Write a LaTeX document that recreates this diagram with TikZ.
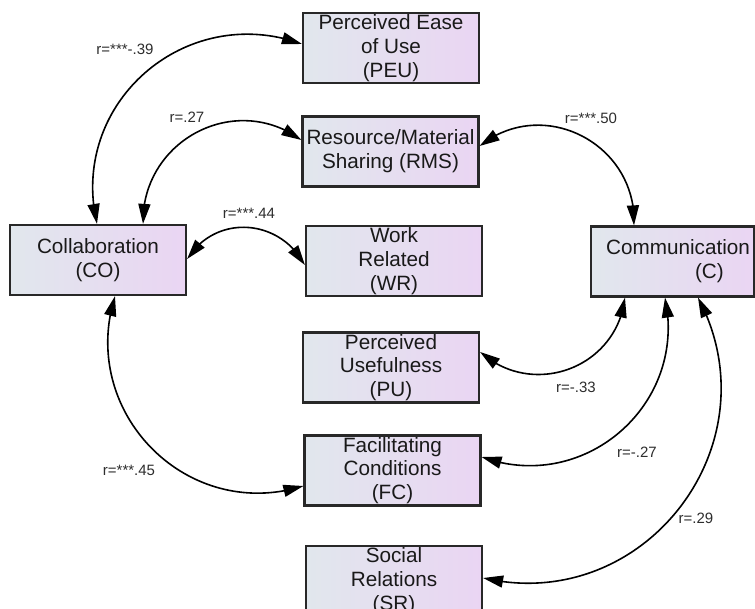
\documentclass[tikz,border=0pt]{standalone}
\usepackage{fontspec}
\setmainfont{Liberation Sans}
\usetikzlibrary{arrows.meta,bending}
\definecolor{boxleft}{RGB}{225,231,237}
\definecolor{boxright}{RGB}{234,213,243}
\definecolor{boxline}{RGB}{40,40,40}
\definecolor{txt}{RGB}{25,25,25}
\definecolor{lbl}{RGB}{45,45,45}
\begin{document}
\begin{tikzpicture}[x=1pt,y=1pt,
  box/.style={draw=boxline, line width=2.2pt, left color=boxleft, right color=boxright,
    minimum width=176pt, minimum height=70pt, inner sep=0pt},
  boxtext/.style={align=center, text=txt, font=\fontsize{20.7}{23.8}\selectfont, inner sep=0pt},
  rlabel/.style={text=lbl, font=\fontsize{15}{18}\selectfont, inner sep=0pt},
  cov/.style={line width=1.6pt, {Triangle[length=20pt,width=12pt]}-{Triangle[length=20pt,width=12pt]}}
]
\useasboundingbox (0,0) rectangle (755,609);
\clip (0,0) rectangle (755,609);
\fill[white] (0,0) rectangle (755,609);

% boxes
\node[box] (peu) at (391,561) {};
\node[box] (rms) at (390.5,457.5) {};
\node[box] (co) at (98,349) {};
\node[box] (wr) at (394,348) {};
\node[box] (pu) at (391,241.5) {};
\node[box, minimum width=163pt] (c) at (672.5,347.5) {};
\node[box] (fc) at (392.5,138.5) {};
\node[box] (sr) at (394,28) {};

% box texts
\node[boxtext] (peut) at (peu) {Perceived Ease\\of Use\\(PEU)};
\node[boxtext] (rmst) at (rms) {Resource/Material\\Sharing (RMS)};
\node[boxtext] (cot) at (co) {Collaboration\\(CO)};
\node[boxtext] (wrt) at (wr) {Work\\Related\\(WR)};
\node[boxtext] (put) at (pu) {Perceived\\Usefulness\\(PU)};
\node[boxtext, align=left] (ct) at ([xshift=5.5pt]c.center) {Communication\\\hspace*{89pt}(C)};
\node[boxtext] (fct) at (fc) {Facilitating\\Conditions\\(FC)};
\node[boxtext] (srt) at (sr) {Social\\Relations\\(SR)};

% covariance arcs
\draw[cov] ([xshift=-1pt]co.north) to[out=103.3,in=160,distance=124pt] ([yshift=4pt]peu.west);
\draw[cov] ([xshift=45pt]co.north) to[out=91.2,in=143.8,distance=83pt] ([yshift=11.5pt]rms.west);
\draw[cov] ([yshift=1pt]co.east) to[out=57.7,in=118.5,distance=53.5pt] ([yshift=-4pt]wr.west);
\draw[cov] ([xshift=17pt]co.south) to[out=252.5,in=197.5,distance=122pt] ([yshift=-15.5pt]fc.west);
\draw[cov] ([yshift=5.5pt]rms.east) to[out=38.7,in=87.6,distance=81.6pt] ([xshift=-38.5pt]c.north);
\draw[cov] ([yshift=15.5pt]pu.east) to[out=318.3,in=263.4,distance=70.9pt] ([xshift=-47.5pt]c.south);
\draw[cov] ([yshift=13.5pt]fc.east) to[out=339.9,in=282.1,distance=109.4pt] ([xshift=-7.5pt]c.south);
\draw[cov] ([yshift=3pt]sr.east) to[out=346.9,in=298.1,distance=165.8pt] ([xshift=25.5pt]c.south);

% labels
\node[rlabel] (l1) at (125,560) {r=***-.39};
\node[rlabel] (l2) at (187,492) {r=.27};
\node[rlabel] (l3) at (591,491) {r=***.50};
\node[rlabel] (l4) at (249,396) {r=***.44};
\node[rlabel] (l5) at (576,222) {r=-.33};
\node[rlabel] (l6) at (129,139) {r=***.45};
\node[rlabel] (l7) at (637,157) {r=-.27};
\node[rlabel] (l8) at (696,91) {r=.29};
\end{tikzpicture}
\end{document}
